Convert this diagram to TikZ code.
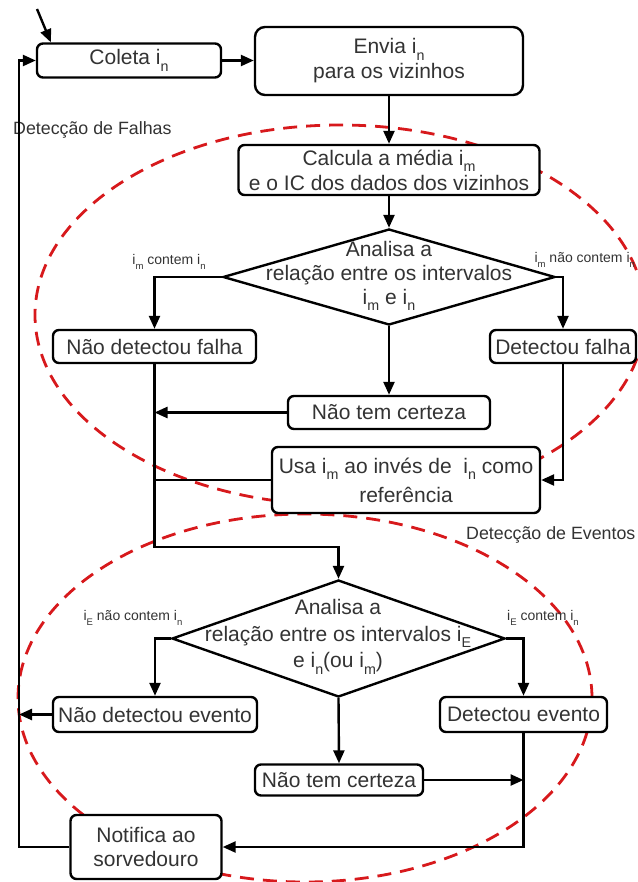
\documentclass[tikz,border=0pt]{standalone}
\usepackage{fontspec}
\usepackage{graphicx}
\setmainfont{Liberation Sans}
\usetikzlibrary{arrows.meta,shapes.geometric}
\newcommand{\isub}[1]{i\raisebox{-0.3em}{\scalebox{0.68}{#1}}}
\definecolor{txtgray}{HTML}{333333}
\definecolor{zonered}{HTML}{D7191C}

\begin{document}
\begin{tikzpicture}[x=1pt,y=-1pt,line width=2.4pt,
  box/.style={draw,rounded corners=6pt,fill=white,inner sep=0pt,align=center,
    text=txtgray,font=\fontsize{21}{25}\selectfont},
  decision/.style={draw,diamond,fill=white,inner sep=0pt},
  dtext/.style={align=center,text=txtgray,font=\fontsize{21}{24}\selectfont},
  flow/.style={-{Triangle[length=13pt,width=11pt]}},
  zone/.style={draw=zonered,line width=2.8pt,dash pattern=on 14pt off 9pt},
  branch/.style={text=txtgray,font=\fontsize{14}{16}\selectfont},
  zonelabel/.style={text=txtgray,inner sep=0pt,font=\fontsize{17.8}{20}\selectfont}]
  \useasboundingbox (0,0) rectangle (637,882);

  % the two zones (dashed red)
  \draw[zone] (340,315) ellipse [x radius=305pt, y radius=190pt];
  \draw[zone] (305,698) ellipse [x radius=287pt, y radius=184pt];
  \node[zonelabel,anchor=west] (falhaslbl) at (12,130) {Detecção de Falhas};
  \node[zonelabel,anchor=west] (eventoslbl) at (465,535) {Detecção de Eventos};

  % collecting and sending
  \node[box,minimum width=184pt,minimum height=34pt] (coleta) at (129,60.5) {Coleta \isub{n}};
  \node[box,rounded corners=10pt,minimum width=268pt,minimum height=68pt] (envia) at (389,61)
    {Envia \isub{n}\\para os vizinhos};
  \node[box,minimum width=301pt,minimum height=50pt] (calcula) at (389,170)
    {Calcula a média \isub{m}\\e o IC dos dados dos vizinhos};

  % fault detection
  \node[decision,minimum width=332pt,minimum height=96pt] (ana1) at (389,277) {};
  \node[dtext] (ana1txt) at (389,276) {Analisa a\\relação entre os intervalos\\\isub{m} e \isub{n}};
  \node[box,minimum width=203pt,minimum height=33pt] (naofalha) at (154.5,346.5) {Não detectou falha};
  \node[box,minimum width=146pt,minimum height=33pt] (falha) at (563,346.5) {Detectou falha};
  \node[box,minimum width=202pt,minimum height=33pt] (incerto1) at (389,412.5) {Não tem certeza};
  \node[box,minimum width=268pt,minimum height=66pt,font=\fontsize{21}{29}\selectfont] (usa) at (406,480)
    {Usa \isub{m} ao invés de \ \isub{n} como\\referência};
  \node[branch] (lbl1) at (169,262) {\isub{m} contem \isub{n}};
  \node[branch,anchor=west] (lbl2) at (530,260) {\isub{m} não contem \isub{n}};

  % event detection
  \node[decision,minimum width=333pt,minimum height=117pt] (ana2) at (338.5,638.5) {};
  \node[dtext,font=\fontsize{21}{26.5}\selectfont] (ana2txt) at (338,637)
    {Analisa a\\relação entre os intervalos \isub{E}\\e \isub{n}(ou \isub{m})};
  \node[box,minimum width=204pt,minimum height=35pt] (naoevento) at (155,714.5) {Não detectou evento};
  \node[box,minimum width=167pt,minimum height=35pt] (evento) at (523.5,714.5) {Detectou evento};
  \node[box,minimum width=168pt,minimum height=31pt] (incerto2) at (339,780) {Não tem certeza};
  \node[box,minimum width=151pt,minimum height=64pt,font=\fontsize{21}{24}\selectfont] (notifica) at (146,847)
    {Notifica ao\\sorvedouro};
  \node[branch] (lbl3) at (133,618) {\isub{E} não contem \isub{n}};
  \node[branch] (lbl4) at (543,618) {\isub{E} contem \isub{n}};

  % connectors
  \coordinate (start) at (37,9);
  \coordinate (merge) at (338.5,547);
  \coordinate (back) at (19,450);
  \draw[flow] (start) -- ([xshift=15pt]coleta.north west);
  \draw[flow] (coleta.east) -- (envia.west |- coleta.east);
  \draw[flow] (envia.south) -- (calcula.north);
  \draw[flow] (calcula.south) -- (ana1.north);
  \draw[flow] (ana1.west) -| (naofalha.north);
  \draw[flow] (ana1.east) -| (falha.north);
  \draw[flow] (ana1.south) -- (incerto1.north);
  \draw[flow] (incerto1.west) -- (incerto1.west -| naofalha.south);
  \draw (usa.west) -- (usa.west -| naofalha.south);
  \draw[flow] (falha.south) |- (usa.east);
  \draw[flow] (naofalha.south) |- (merge) -- (ana2.north);
  \draw[flow] (ana2.west) -| (naoevento.north);
  \draw[flow] (ana2.east) -| (evento.north);
  \draw[flow] (ana2.south) -- (incerto2.north);
  \draw[flow] (naoevento.west) -- (naoevento.west -| back);
  \draw[flow] (incerto2.east) -- (incerto2.east -| evento.south);
  \draw[flow] (evento.south) |- (notifica.east);
  \draw[flow] (notifica.west) -| (back) |- (coleta.west);
\end{tikzpicture}
\end{document}
